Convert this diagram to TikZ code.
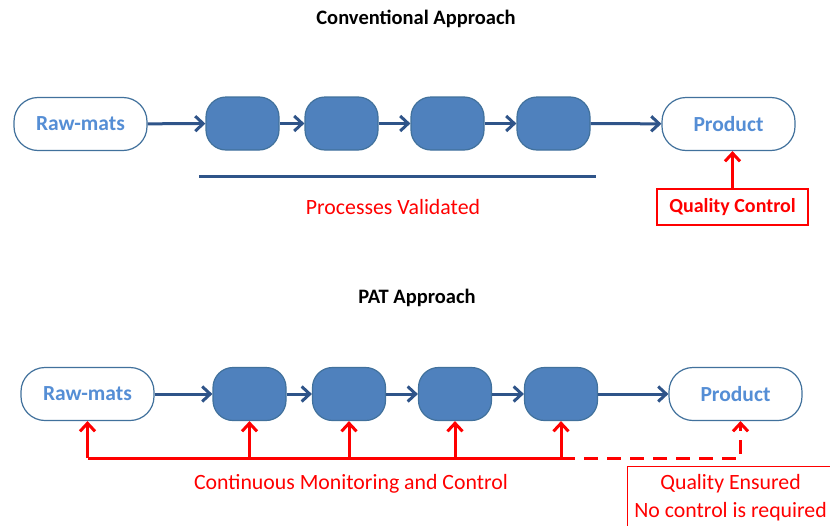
\documentclass[tikz,border=0pt]{standalone}
\usepackage{fontspec}
\setmainfont{Carlito}
\usetikzlibrary{arrows.meta}
\definecolor{boxblue}{HTML}{4F81BD}
\definecolor{edgeblue}{HTML}{41719C}
\definecolor{arrowblue}{HTML}{2F5489}
\definecolor{textblue}{HTML}{558ED5}

\tikzstyle{endpt}=[draw=edgeblue,line width=1.2pt,fill=white,rounded corners=24pt,minimum width=133pt,minimum height=53pt,text=textblue,font=\fontsize{21.5}{22}\selectfont\bfseries]
\tikzstyle{proc}=[draw=edgeblue,line width=1.2pt,fill=boxblue,rounded corners=20pt,minimum width=73pt,minimum height=53pt]
\tikzstyle{flow}=[draw=arrowblue,line width=3pt,-{Straight Barb[length=8pt,width=15pt]}]
\tikzstyle{ctrl}=[draw=red,line width=3pt,-{Straight Barb[length=8pt,width=15pt]}]
\tikzstyle{title}=[font=\fontsize{20.5}{22}\selectfont\bfseries]
\tikzstyle{note}=[text=red,font=\fontsize{21.8}{28}\selectfont]
\tikzstyle{redbox}=[draw=red,line width=1.2pt]

\begin{document}
\begin{tikzpicture}[x=1pt,y=-1pt]
        \useasboundingbox (0,0) rectangle (830,525);

        % conventional approach
        \draw (416,19) node[title](t1){Conventional Approach};
        \draw (80.5,124) node[endpt](rm1){Raw-mats};
        \draw (242.5,123.5) node[proc](b11){};
        \draw (341.5,123.5) node[proc](b12){};
        \draw (447.5,123.5) node[proc](b13){};
        \draw (553.5,123.5) node[proc](b14){};
        \draw (728.5,124) node[endpt](p1){Product};
        \draw[draw=arrowblue,line width=3pt] (199,176) -- (596,176);
        \draw (393,207) node[note](pv){Processes Validated};
        \draw (732.5,207) node[redbox,note,font=\fontsize{20}{24}\selectfont\bfseries,minimum width=151pt,minimum height=36pt](qc){Quality Control};
        %
        \path
            (rm1)   edge[flow]  (b11)
            (b11)   edge[flow]  (b12)
            (b12)   edge[flow]  (b13)
            (b13)   edge[flow]  (b14)
            (b14)   edge[flow]  (p1)
            (qc.north) edge[ctrl] (qc.north |- p1.south)
        ;

        % PAT approach
        \draw (417,298) node[title](t2){PAT Approach};
        \draw (87.5,394) node[endpt](rm2){Raw-mats};
        \draw (249.5,394) node[proc](b21){};
        \draw (349,394) node[proc](b22){};
        \draw (455,394) node[proc](b23){};
        \draw (561,394) node[proc](b24){};
        \draw (735.5,394) node[endpt](p2){Product};
        \coordinate (fb) at (0,458);
        \draw (351,484) node[note](cm){Continuous Monitoring and Control};
        \draw (627,466) node[redbox,note,anchor=north west,align=center,minimum width=206pt,minimum height=63pt](qe){Quality Ensured\\No control is required};
        %
        \path
            (rm2)   edge[flow]  (b21)
            (b21)   edge[flow]  (b22)
            (b22)   edge[flow]  (b23)
            (b23)   edge[flow]  (b24)
            (b24)   edge[flow]  (p2)
            (rm2.south |- fb) edge[ctrl] (rm2.south)
            (b21.south |- fb) edge[ctrl] (b21.south)
            (b22.south |- fb) edge[ctrl] (b22.south)
            (b23.south |- fb) edge[ctrl] (b23.south)
            (b24.south |- fb) edge[ctrl] (b24.south)
        ;
        \draw[draw=red,line width=3pt] (rm2.south |- fb) -- (b24.south |- fb);
        \draw[ctrl,dashed,dash pattern=on 14pt off 9pt] (b24.south |- fb) -| ([xshift=5pt]p2.south);
      \end{tikzpicture}
\end{document}
